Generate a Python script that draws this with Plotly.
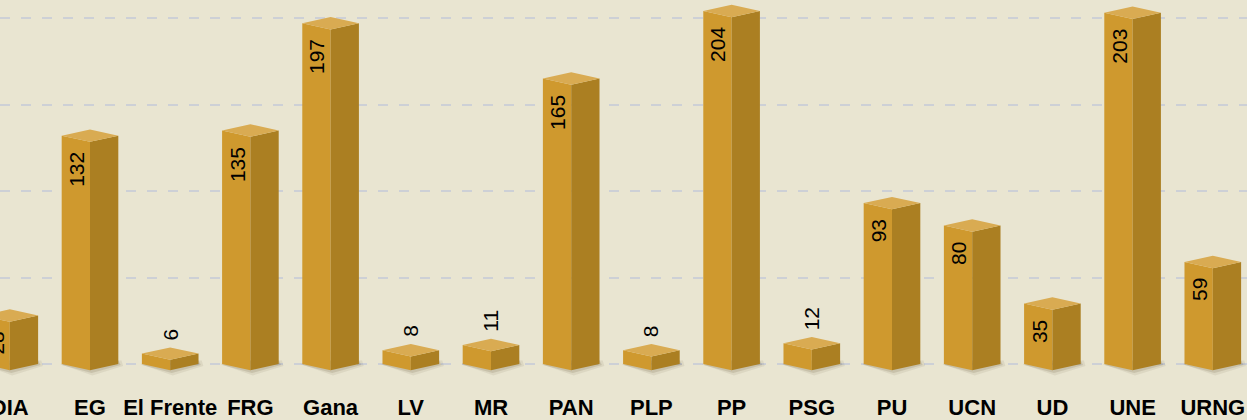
import plotly.graph_objects as go

categories = ["DIA", "EG", "El Frente", "FRG", "Gana", "LV", "MR", "PAN", "PLP",
              "PP", "PSG", "PU", "UCN", "UD", "UNE", "URNG"]
values = [28, 132, 6, 135, 197, 8, 11, 165, 8, 204, 12, 93, 80, 35, 203, 59]

HALF = 0.353     # half bar width (category units)
DEPTH = 3.6      # vertical offset of 3D corners (value units)

LEFT_COLOR = "#CF992E"
RIGHT_COLOR = "#AB7F22"
TOP_COLOR = "#D9AB52"
BG = "#E9E5D1"


def polys(shapes):
    xs, ys = [], []
    for pts in shapes:
        for x, y in pts:
            xs.append(x)
            ys.append(y)
        xs.append(pts[0][0])
        ys.append(pts[0][1])
        xs.append(None)
        ys.append(None)
    return xs, ys


left, right, top, shadow1, shadow2 = [], [], [], [], []
for i, v in enumerate(values):
    left.append([(i - HALF, 0), (i, -DEPTH), (i, v - DEPTH), (i - HALF, v)])
    right.append([(i, -DEPTH), (i + HALF, 0), (i + HALF, v), (i, v - DEPTH)])
    top.append([(i - HALF, v), (i, v - DEPTH), (i + HALF, v), (i, v + DEPTH)])
    shadow1.append([(i - HALF - 0.02, 0), (i + 0.03, -DEPTH - 3.0),
                    (i + HALF + 0.06, -1.2), (i + HALF + 0.04, 2), (i, 2)])
    shadow2.append([(i - HALF - 0.01, -0.5), (i + 0.02, -DEPTH - 1.6),
                    (i + HALF + 0.03, -0.6), (i + HALF, 2), (i, 2)])

fig = go.Figure()
for shp, col in [(shadow1, "rgba(60,40,0,0.07)"), (shadow2, "rgba(60,40,0,0.12)"),
                 (left, LEFT_COLOR), (right, RIGHT_COLOR), (top, TOP_COLOR)]:
    xs, ys = polys(shp)
    fig.add_trace(go.Scatter(x=xs, y=ys, mode="lines", fill="toself",
                             fillcolor=col, line=dict(width=0, color=col),
                             hoverinfo="skip", showlegend=False))

label_font = dict(family="Liberation Sans", size=21, color="#000")
annotations = []
for i, v in enumerate(values):
    if v >= 20:
        annotations.append(dict(x=i, y=v - DEPTH, xref="x", yref="y",
                                text=str(v), showarrow=False, textangle=-90,
                                xanchor="center", yanchor="top",
                                xshift=-13.5, yshift=-8, font=label_font))
    else:
        annotations.append(dict(x=i, y=v + DEPTH, xref="x", yref="y",
                                text=str(v), showarrow=False, textangle=-90,
                                xanchor="center", yanchor="bottom",
                                yshift=5, font=label_font))

PX_PER_UNIT = 1.73
BASE_PX = 364
PLOT_H = 385
y_top = BASE_PX / PX_PER_UNIT
y_bot = (BASE_PX - PLOT_H) / PX_PER_UNIT

fig.update_layout(
    width=1247, height=420,
    margin=dict(l=0, r=0, t=0, b=420 - PLOT_H, pad=0),
    paper_bgcolor=BG, plot_bgcolor=BG,
    annotations=annotations,
    xaxis=dict(range=[-9.8 / 80.2, (1247 - 9.8) / 80.2], tickmode="array",
               tickvals=list(range(len(categories))), ticktext=categories,
               showgrid=False, zeroline=False, showline=False, ticks="",
               automargin=False,
               ticklabeloverflow="allow", ticklabelstandoff=7,
               tickfont=dict(family="Liberation Sans", size=22, color="#000", weight=700)),
    yaxis=dict(range=[y_bot, y_top], dtick=50, tick0=0, showgrid=True,
               automargin=False,
               gridcolor="#CDD0D6", gridwidth=2, griddash="10px,11px",
               zeroline=False, showticklabels=False, ticks="", showline=False),
)

fig.write_html("out.html", config={"displayModeBar": False},
               post_script="document.body.style.margin='0';document.body.style.background='" + BG + "';")
